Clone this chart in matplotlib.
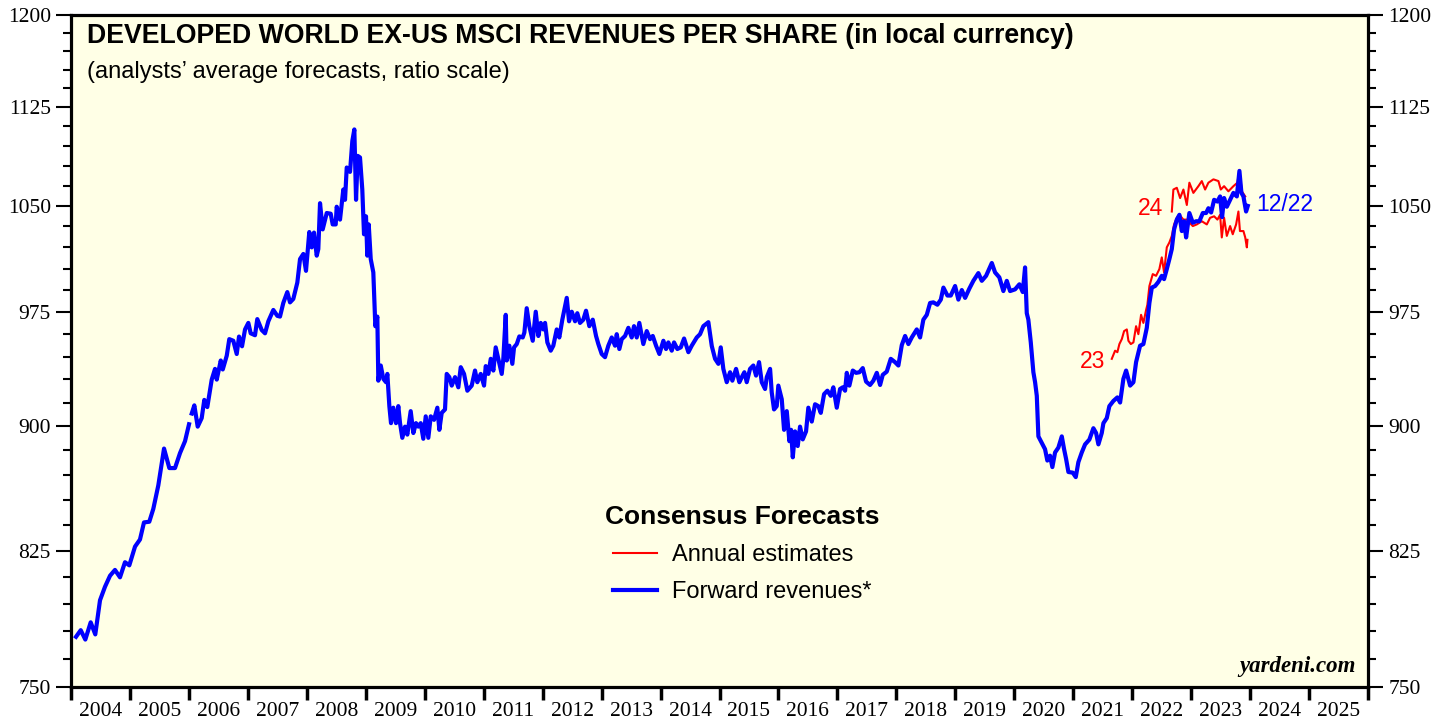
import numpy as np
import matplotlib
matplotlib.use("Agg")
import matplotlib.pyplot as plt
from matplotlib.lines import Line2D

# forward revenues, early monthly stretch (2004-2005)
fwd_early_t = [2004.085, 2004.165, 2004.243, 2004.334, 2004.412, 2004.492, 2004.577, 2004.662,
               2004.746, 2004.831, 2004.916, 2004.989, 2005.086, 2005.170, 2005.238, 2005.328,
               2005.396, 2005.481, 2005.578, 2005.668, 2005.764, 2005.849, 2005.934, 2006.002]
fwd_early_v = [776.8, 780.4, 775.3, 784.7, 778.1, 796.9, 804.5, 810.7,
               814.0, 809.8, 818.4, 816.6, 827.4, 831.5, 841.5, 841.9,
               849.5, 863.6, 886.1, 874.1, 874.1, 883.3, 890.7, 901.3]

# forward revenues, weekly from 2006
fwd_t = [2006.048, 2006.092, 2006.149, 2006.217, 2006.261, 2006.312, 2006.387, 2006.443, 2006.472, 2006.540,
         2006.574, 2006.642, 2006.685, 2006.753, 2006.811, 2006.850, 2006.901, 2006.952, 2007.008, 2007.048,
         2007.121, 2007.160, 2007.235, 2007.291, 2007.347, 2007.432, 2007.500, 2007.545, 2007.601, 2007.669,
         2007.715, 2007.771, 2007.839, 2007.885, 2007.941, 2007.986, 2008.042, 2008.083, 2008.122, 2008.168,
         2008.195, 2008.224, 2008.269, 2008.338, 2008.405, 2008.439, 2008.490, 2008.507, 2008.563, 2008.619,
         2008.648, 2008.677, 2008.733, 2008.772, 2008.806, 2008.835, 2008.863, 2008.902, 2008.941, 2008.970,
         2009.004, 2009.026, 2009.050, 2009.084, 2009.128, 2009.162, 2009.196, 2009.213, 2009.254, 2009.298,
         2009.343, 2009.366, 2009.400, 2009.428, 2009.467, 2009.513, 2009.552, 2009.581, 2009.620, 2009.666,
         2009.705, 2009.762, 2009.807, 2009.852, 2009.891, 2009.932, 2009.976, 2010.017, 2010.061, 2010.102,
         2010.158, 2010.214, 2010.248, 2010.288, 2010.344, 2010.373, 2010.417, 2010.458, 2010.514, 2010.570,
         2010.611, 2010.667, 2010.723, 2010.797, 2010.853, 2010.892, 2010.950, 2011.006, 2011.035, 2011.079,
         2011.120, 2011.164, 2011.204, 2011.248, 2011.306, 2011.333, 2011.374, 2011.391, 2011.435, 2011.486,
         2011.515, 2011.561, 2011.605, 2011.662, 2011.690, 2011.730, 2011.774, 2011.832, 2011.883, 2011.927,
         2011.968, 2012.012, 2012.041, 2012.080, 2012.137, 2012.181, 2012.239, 2012.283, 2012.334, 2012.409,
         2012.448, 2012.494, 2012.550, 2012.588, 2012.634, 2012.690, 2012.736, 2012.792, 2012.850, 2012.906,
         2012.945, 2013.002, 2013.058, 2013.114, 2013.172, 2013.228, 2013.257, 2013.301, 2013.342, 2013.398,
         2013.454, 2013.511, 2013.550, 2013.596, 2013.640, 2013.708, 2013.766, 2013.822, 2013.868, 2013.924,
         2013.980, 2014.048, 2014.093, 2014.132, 2014.190, 2014.229, 2014.285, 2014.343, 2014.399, 2014.472,
         2014.529, 2014.614, 2014.670, 2014.726, 2014.811, 2014.869, 2014.925, 2014.981, 2015.021, 2015.065,
         2015.123, 2015.179, 2015.218, 2015.281, 2015.337, 2015.378, 2015.422, 2015.462, 2015.518, 2015.574,
         2015.620, 2015.671, 2015.717, 2015.773, 2015.802, 2015.858, 2015.886, 2015.925, 2015.971, 2015.998,
         2016.056, 2016.095, 2016.141, 2016.185, 2016.214, 2016.243, 2016.282, 2016.327, 2016.366, 2016.412,
         2016.468, 2016.507, 2016.565, 2016.621, 2016.677, 2016.718, 2016.774, 2016.830, 2016.887, 2016.931,
         2016.989, 2017.045, 2017.091, 2017.130, 2017.159, 2017.203, 2017.261, 2017.317, 2017.373, 2017.430,
         2017.486, 2017.554, 2017.610, 2017.668, 2017.724, 2017.769, 2017.837, 2017.905, 2017.978, 2018.034,
         2018.092, 2018.148, 2018.204, 2018.261, 2018.346, 2018.402, 2018.458, 2018.516, 2018.572, 2018.628,
         2018.696, 2018.754, 2018.798, 2018.866, 2018.923, 2018.996, 2019.052, 2019.110, 2019.166, 2019.238,
         2019.306, 2019.391, 2019.449, 2019.522, 2019.578, 2019.619, 2019.674, 2019.747, 2019.815, 2019.873,
         2019.929, 2020.014, 2020.087, 2020.144, 2020.183, 2020.212, 2020.239, 2020.280, 2020.324, 2020.353,
         2020.382, 2020.409, 2020.466, 2020.522, 2020.561, 2020.607, 2020.646, 2020.692, 2020.748, 2020.806,
         2020.845, 2020.879, 2020.918, 2020.992, 2021.043, 2021.087, 2021.145, 2021.201, 2021.274, 2021.342,
         2021.388, 2021.427, 2021.484, 2021.512, 2021.569, 2021.613, 2021.681, 2021.749, 2021.795, 2021.851,
         2021.897, 2021.965, 2022.021, 2022.066, 2022.134, 2022.190, 2022.248, 2022.292, 2022.333, 2022.389,
         2022.445, 2022.502, 2022.541, 2022.587, 2022.631, 2022.672, 2022.711, 2022.757, 2022.801, 2022.842,
         2022.881, 2022.915, 2022.970, 2023.028, 2023.084, 2023.140, 2023.198, 2023.254, 2023.293, 2023.339,
         2023.390, 2023.446, 2023.491, 2023.525, 2023.559, 2023.605, 2023.661, 2023.717, 2023.775, 2023.819,
         2023.853, 2023.887, 2023.932, 2023.961]
fwd_v = [908.1, 913.3, 899.8, 905.2, 916.8, 912.2, 929.9, 936.9, 929.9, 942.4,
         936.5, 945.6, 956.6, 955.5, 946.7, 958.3, 951.8, 963.1, 967.5, 960.5,
         959.2, 970.1, 962.7, 960.5, 968.6, 976.3, 972.3, 971.8, 981.1, 988.6,
         981.5, 983.9, 995.2, 1011.7, 1015.3, 1003.4, 1031.0, 1020.0, 1030.6, 1014.1,
         1018.8, 1052.0, 1032.9, 1044.8, 1044.3, 1036.5, 1036.5, 1049.4, 1040.0, 1062.1,
         1054.5, 1078.6, 1075.3, 1098.8, 1107.7, 1054.5, 1087.4, 1086.2, 1062.1, 1029.4,
         1042.4, 1014.1, 1036.5, 1011.7, 1002.3, 965.3, 971.8, 929.2, 939.1, 930.4,
         928.2, 933.6, 912.8, 902.0, 911.8, 902.0, 912.8, 902.0, 892.8, 899.8,
         894.8, 909.6, 895.8, 902.0, 899.8, 902.0, 892.2, 906.3, 892.8, 906.3,
         904.1, 911.8, 897.8, 908.5, 910.7, 933.6, 931.5, 926.0, 931.5, 924.9,
         938.0, 933.6, 922.7, 926.0, 935.8, 928.2, 933.6, 926.0, 938.7, 933.6,
         943.5, 935.8, 951.1, 943.5, 933.6, 943.5, 973.0, 942.4, 952.2, 940.2,
         951.1, 953.3, 958.4, 957.7, 961.0, 977.5, 965.3, 955.5, 975.1, 958.7,
         967.5, 963.1, 967.5, 954.4, 948.9, 952.2, 963.1, 957.7, 969.7, 984.6,
         968.6, 975.1, 968.6, 974.1, 967.5, 969.7, 975.8, 965.3, 969.7, 958.7,
         953.3, 946.7, 944.6, 952.2, 957.7, 952.2, 959.9, 950.0, 956.6, 958.7,
         964.2, 957.7, 965.3, 957.7, 967.5, 953.3, 962.0, 956.6, 958.7, 952.2,
         946.7, 955.5, 950.0, 954.4, 948.9, 954.4, 950.0, 951.1, 957.0, 947.9,
         952.2, 957.7, 959.9, 965.3, 968.0, 952.0, 943.5, 940.2, 951.1, 936.9,
         928.2, 934.7, 929.2, 936.9, 928.2, 931.5, 934.7, 928.2, 936.9, 939.1,
         932.5, 941.3, 928.2, 923.8, 931.5, 936.9, 921.6, 910.7, 912.8, 926.0,
         917.2, 897.8, 909.6, 890.7, 897.8, 880.7, 896.8, 887.7, 899.8, 891.8,
         896.8, 911.8, 903.0, 914.0, 912.8, 908.5, 920.5, 922.7, 919.4, 924.9,
         911.8, 923.8, 924.9, 922.7, 934.3, 926.0, 935.8, 934.3, 934.7, 937.4,
         928.6, 926.4, 929.2, 934.3, 926.4, 933.0, 935.1, 943.5, 941.3, 939.1,
         952.6, 958.7, 953.3, 957.7, 963.1, 957.7, 969.7, 973.0, 981.1, 981.5,
         979.9, 983.4, 991.7, 986.2, 986.2, 992.8, 983.4, 990.0, 984.6, 991.0,
         996.4, 1001.8, 996.4, 999.9, 1005.1, 1008.9, 1002.3, 998.8, 989.3, 996.4,
         989.3, 990.5, 994.0, 988.6, 1005.8, 974.1, 969.7, 954.4, 934.7, 928.2,
         919.4, 893.7, 889.7, 885.7, 878.7, 881.7, 874.7, 883.7, 886.7, 893.7,
         885.7, 879.7, 871.7, 871.3, 868.6, 877.7, 883.7, 888.7, 891.7, 898.8,
         895.8, 888.7, 895.8, 902.0, 905.2, 912.8, 916.1, 918.4, 915.1, 930.4,
         935.8, 926.0, 928.2, 941.3, 952.2, 953.3, 964.2, 981.1, 991.7, 992.8,
         995.7, 999.9, 997.6, 1004.6, 1011.7, 1018.8, 1032.9, 1040.0, 1043.5, 1031.7,
         1038.8, 1027.1, 1044.8, 1037.7, 1038.8, 1038.8, 1044.8, 1044.8, 1048.3, 1045.2,
         1054.5, 1053.2, 1057.0, 1041.8, 1055.8, 1049.4, 1054.5, 1059.6, 1057.0, 1076.0,
         1059.6, 1057.0, 1045.9, 1050.0]

# annual estimates for 2023
est23_t = [2021.654, 2021.710, 2021.749, 2021.783, 2021.824, 2021.863, 2021.909, 2021.936, 2021.977, 2022.021,
           2022.066, 2022.105, 2022.151, 2022.190, 2022.236, 2022.258, 2022.292, 2022.349, 2022.405, 2022.461,
           2022.502, 2022.541, 2022.587, 2022.631, 2022.672, 2022.711, 2022.757, 2022.801, 2022.869, 2022.927,
           2023.028, 2023.096, 2023.181, 2023.266, 2023.321, 2023.390, 2023.446, 2023.491, 2023.520, 2023.559,
           2023.605, 2023.661, 2023.706, 2023.763, 2023.802, 2023.828, 2023.887, 2023.917, 2023.945, 2023.955]
est23_v = [943.5, 948.9, 947.9, 953.3, 956.6, 962.0, 963.1, 955.5, 953.3, 954.4,
           965.3, 959.9, 973.0, 967.5, 976.3, 979.9, 992.8, 1001.1, 999.9, 1004.6,
           1012.9, 1002.3, 1020.0, 1023.5, 1028.2, 1036.5, 1041.3, 1043.5, 1040.0, 1040.0,
           1035.3, 1036.5, 1038.8, 1036.5, 1041.3, 1042.4, 1040.0, 1043.5, 1027.1, 1041.3,
           1028.2, 1035.3, 1029.4, 1036.5, 1045.9, 1031.7, 1031.7, 1027.2, 1020.0, 1025.4]

# annual estimates for 2024
est24_t = [2022.672, 2022.699, 2022.757, 2022.813, 2022.869, 2022.927, 2022.970, 2023.038, 2023.123, 2023.181,
           2023.237, 2023.293, 2023.378, 2023.463, 2023.503, 2023.559, 2023.632, 2023.717, 2023.785, 2023.819,
           2023.860, 2023.917]
est24_v = [1045.9, 1062.1, 1063.4, 1055.8, 1062.1, 1050.7, 1067.2, 1059.6, 1064.6, 1068.4,
           1062.1, 1067.2, 1069.7, 1068.4, 1062.1, 1064.6, 1060.8, 1064.6, 1067.2, 1076.8,
           1060.8, 1057.0]

major_y = [750, 825, 900, 975, 1050, 1125, 1200]
years = list(range(2004, 2026))

serif = ["Liberation Serif", "DejaVu Serif"]
sans = ["Liberation Sans", "DejaVu Sans"]
RED, BLUE = "#FF0000", "#0000FF"

fig = plt.figure(figsize=(14.48, 7.19), dpi=100)
ax = fig.add_axes([71 / 1448, (719 - 687) / 719, 1297 / 1448, 672 / 719])
ax.set_facecolor("#FFFFE6")

# red estimates underneath, blue forward line on top
ax.plot(est23_t, est23_v, color=RED, lw=1.5, zorder=2)
ax.plot(est24_t, est24_v, color=RED, lw=1.5, zorder=2)
ax.plot(fwd_early_t, fwd_early_v, color=BLUE, lw=3.0, solid_joinstyle="round", zorder=3)
ax.plot(fwd_t, fwd_v, color=BLUE, lw=3.0, solid_joinstyle="round", zorder=3)

ax.set_yscale("log")
ax.set_ylim(750, 1200)
ax.set_xlim(2004, 2026)
ax.set_yticks(major_y)
ax.set_yticklabels([str(v) for v in major_y], fontfamily=serif, fontsize=15.5)
ax.set_yticks([v for v in range(765, 1200, 15) if v not in major_y], minor=True)
ax.set_yticklabels([], minor=True)
ax.tick_params(axis="y", which="major", direction="out", length=11, width=1.5,
               left=True, right=True, labelleft=True, labelright=True, pad=3.5)
ax.tick_params(axis="y", which="minor", direction="out", length=5.5, width=1.5,
               left=True, right=True)

ax.set_xticks(list(range(2004, 2027)))
ax.set_xticklabels([])
ax.set_xticks([y + 0.5 for y in years], minor=True)
ax.set_xticklabels([str(y) for y in years], minor=True, fontfamily=serif, fontsize=15.5)
ax.tick_params(axis="x", which="major", direction="out", length=9.5, width=2.5)
ax.tick_params(axis="x", which="minor", length=0, pad=10.5)

for s in ax.spines.values():
    s.set_linewidth(2.3)

ax.text(0.0123, 0.958, "DEVELOPED WORLD EX-US MSCI REVENUES PER SHARE (in local currency)",
        transform=ax.transAxes, fontfamily=sans, fontweight="bold", fontsize=19.2, va="baseline")
ax.text(0.0123, 0.906, "(analysts\u2019 average forecasts, ratio scale)",
        transform=ax.transAxes, fontfamily=sans, fontsize=17, va="baseline")
ax.text(0.9907, 0.022, "yardeni.com", transform=ax.transAxes, fontfamily=serif,
        fontweight="bold", fontstyle="italic", fontsize=16.5, ha="right", va="baseline")

ax.text(2022.52, 1048, "24", color=RED, fontfamily=sans, fontsize=16.5, ha="right", va="center")
ax.text(2021.54, 942, "23", color=RED, fontfamily=sans, fontsize=16.5, ha="right", va="center")
ax.text(2024.10, 1051, "12/22", color=BLUE, fontfamily=sans, fontsize=16.5, ha="left", va="center")

handles = [Line2D([], [], color=RED, lw=1.5), Line2D([], [], color=BLUE, lw=3.0)]
leg = ax.legend(handles, ["Annual estimates", "Forward revenues*"], loc="center",
                bbox_to_anchor=(0.5174, 0.198), frameon=False, fontsize=17,
                title="Consensus Forecasts", handlelength=1.9, handletextpad=0.62,
                labelspacing=0.65, borderpad=0,
                title_fontproperties={"family": sans, "weight": "bold", "size": 19})
for t in leg.get_texts():
    t.set_fontfamily(sans)

fig.savefig("out.png", dpi=100)
